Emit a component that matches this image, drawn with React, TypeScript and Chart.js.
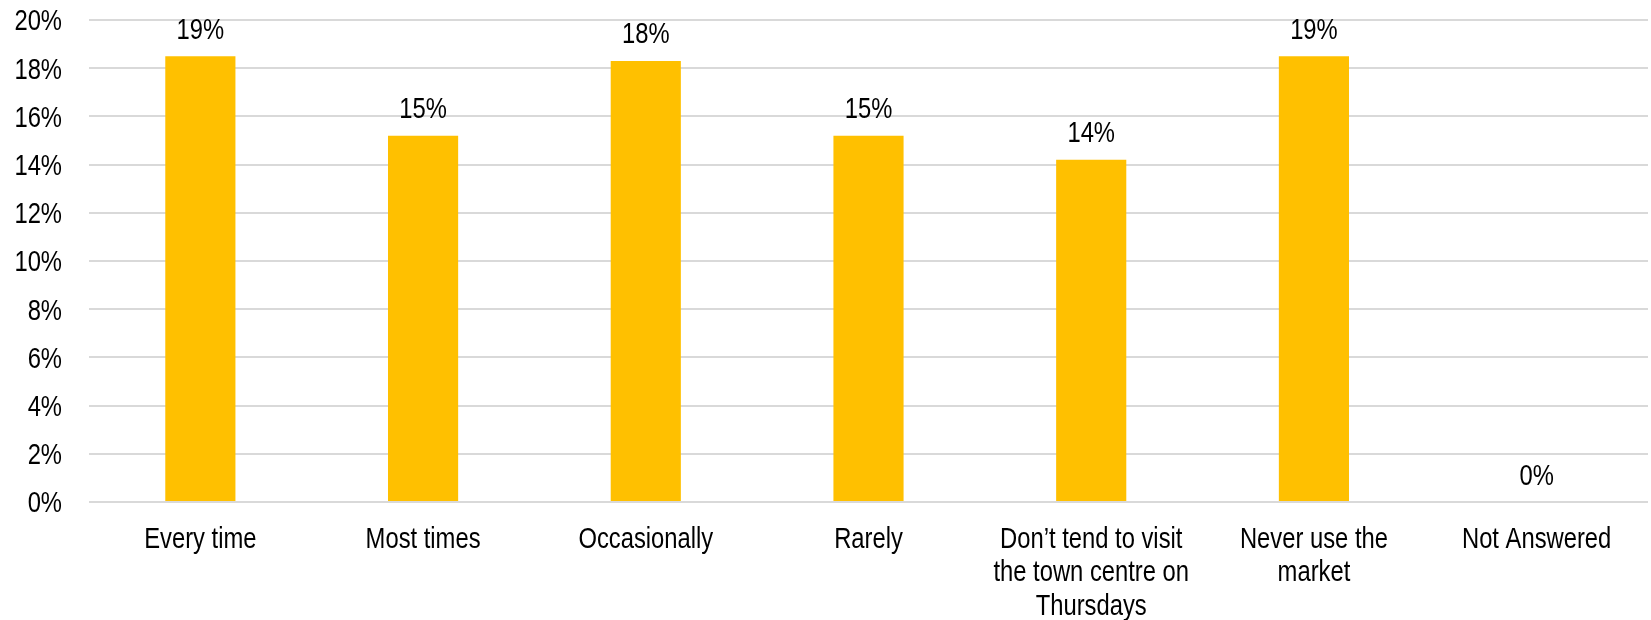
import React, { useEffect, useRef } from "react";
import { Chart, registerables } from "chart.js";

Chart.register(...registerables);

const categories: string[][] = [
  ["Every time"],
  ["Most times"],
  ["Occasionally"],
  ["Rarely"],
  ["Don’t tend to visit", "the town centre on", "Thursdays"],
  ["Never use the", "market"],
  ["Not Answered"],
];
const values: number[] = [18.5, 15.2, 18.3, 15.2, 14.2, 18.5, 0];
const yTicks: number[] = [0, 2, 4, 6, 8, 10, 12, 14, 16, 18, 20];

const FONT = "'Liberation Sans', Arial, sans-serif";
const FONT_SIZE = 29;
const NARROW = 0.82; // emulate Arial Narrow
const LINE_H = 33.5;

function narrowText(ctx: CanvasRenderingContext2D, text: string, x: number, y: number, align: CanvasTextAlign) {
  ctx.save();
  ctx.translate(x, y);
  ctx.scale(NARROW, 1);
  ctx.textAlign = align;
  ctx.fillText(text, 0, 0);
  ctx.restore();
}

const narrowLabels = {
  id: "narrowLabels",
  afterDatasetsDraw(chart: any) {
    const ctx: CanvasRenderingContext2D = chart.ctx;
    const xScale = chart.scales.x;
    const yScale = chart.scales.y;
    const area = chart.chartArea;
    ctx.save();
    ctx.font = `${FONT_SIZE}px ${FONT}`;
    ctx.fillStyle = "#000000";
    ctx.textBaseline = "alphabetic";
    // y tick labels
    yScale.ticks.forEach((t: any) => {
      const y = yScale.getPixelForValue(t.value);
      narrowText(ctx, `${t.value}%`, area.left - 27, y + 10.4, "right");
    });
    // x tick labels
    (chart.data.labels as string[][]).forEach((lines, i) => {
      const x = xScale.getPixelForTick(i);
      lines.forEach((line, j) => {
        narrowText(ctx, line, x, area.bottom + 45.5 + j * LINE_H, "center");
      });
    });
    // value labels
    const meta = chart.getDatasetMeta(0);
    meta.data.forEach((bar: any, i: number) => {
      const v = chart.data.datasets[0].data[i] as number;
      narrowText(ctx, `${Math.round(v)}%`, bar.x, bar.y - 17.5, "center");
    });
    ctx.restore();
  },
};

export default function App() {
  const ref = useRef<HTMLCanvasElement | null>(null);
  useEffect(() => {
    document.body.style.margin = "0";
    if (!ref.current) return;
    const chart = new Chart(ref.current, {
      type: "bar",
      data: {
        labels: categories,
        datasets: [
          {
            data: values,
            backgroundColor: "#FFC000",
            barPercentage: 0.315,
            categoryPercentage: 1,
          },
        ],
      },
      options: {
        animation: false,
        responsive: false,
        maintainAspectRatio: false,
        layout: { padding: { top: 20, left: 89, right: 3, bottom: 118 } },
        plugins: { legend: { display: false }, tooltip: { enabled: false } },
        scales: {
          x: {
            grid: { display: false, drawTicks: false },
            border: { display: false },
            ticks: { display: false },
          },
          y: {
            min: 0,
            max: 20,
            afterBuildTicks: (axis: any) => {
              axis.ticks = yTicks.map((v) => ({ value: v }));
            },
            grid: { color: "#d9d9d9", lineWidth: 2, drawTicks: false },
            border: { display: false },
            ticks: { display: false },
          },
        },
      },
      plugins: [narrowLabels],
    });
    return () => chart.destroy();
  }, []);
  return (
    <div style={{ width: 1651, height: 620 }}>
      <canvas ref={ref} width={1651} height={620} style={{ display: "block" }} />
    </div>
  );
}
